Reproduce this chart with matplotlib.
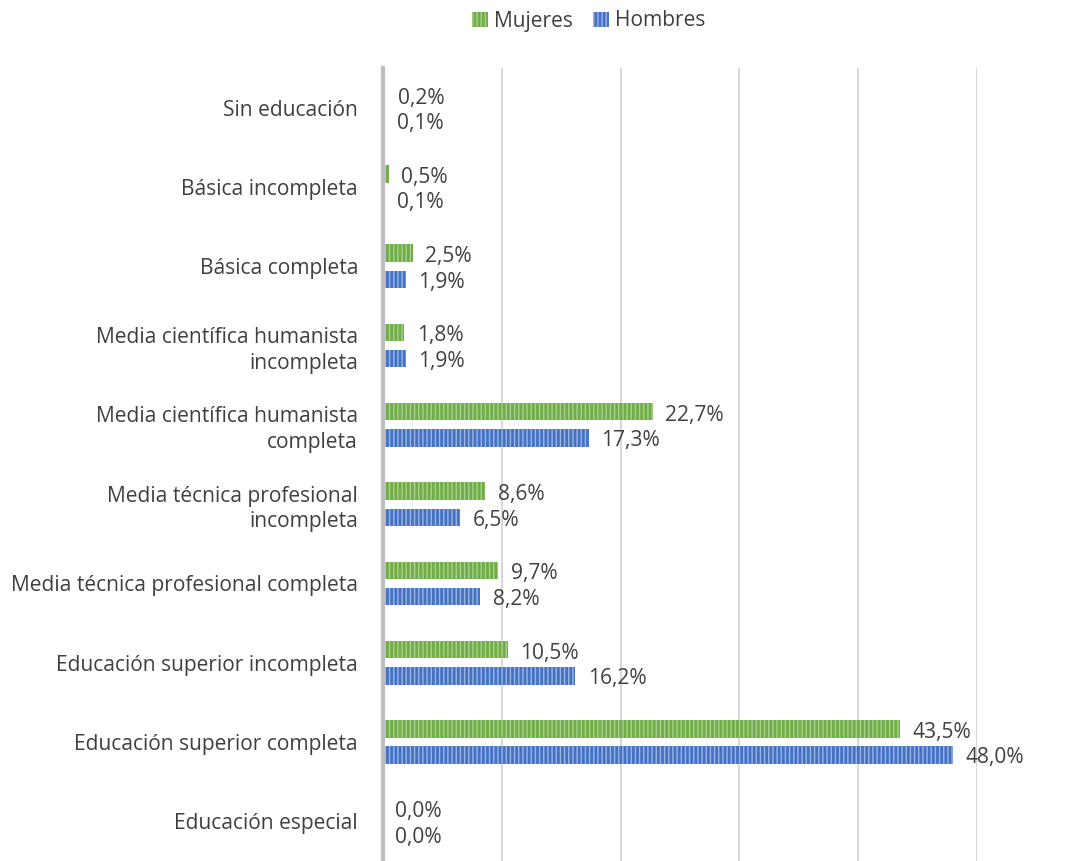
import matplotlib
matplotlib.use("Agg")
import matplotlib.pyplot as plt
import numpy as np
from matplotlib.patches import Patch

categories = [
    "Sin educación",
    "Básica incompleta",
    "Básica completa",
    "Media científica humanista\nincompleta",
    "Media científica humanista\ncompleta",
    "Media técnica profesional\nincompleta",
    "Media técnica profesional completa",
    "Educación superior incompleta",
    "Educación superior completa",
    "Educación especial",
]
mujeres = [0.2, 0.5, 2.5, 1.8, 22.7, 8.6, 9.7, 10.5, 43.5, 0.0]
hombres = [0.1, 0.1, 1.9, 1.9, 17.3, 6.5, 8.2, 16.2, 48.0, 0.0]
series_names = ["Mujeres", "Hombres"]

green = "#70AD47"
blue = "#4472C4"
text_color = "#404040"

plt.rcParams['font.family'] = ['Open Sans', 'DejaVu Sans']
plt.rcParams['hatch.linewidth'] = 1.0

fig = plt.figure(figsize=(10.89, 8.61), dpi=100)
ax = fig.add_axes([383/1089, 0.0, (977-383)/1089, 1 - 68/861])

y = np.arange(len(categories))
h = 0.22
off = 0.165
ax.barh(y - off, mujeres, height=h, color=green, edgecolor="#A9D08E", linewidth=0, hatch="||||", zorder=3)
ax.barh(y + off, hombres, height=h, color=blue, edgecolor="#9DB5E3", linewidth=0, hatch="||||", zorder=3)

fs = 15.1
for i, v in enumerate(mujeres):
    ax.annotate(f"{v:.1f}%".replace(".", ","), (v, y[i] - off), xytext=(9, -2.5),
                textcoords="offset points", va="center", ha="left",
                fontsize=fs, color=text_color)
for i, v in enumerate(hombres):
    ax.annotate(f"{v:.1f}%".replace(".", ","), (v, y[i] + off), xytext=(9, -2),
                textcoords="offset points", va="center", ha="left",
                fontsize=fs, color=text_color)

ax.set_xlim(0, 50)
ax.set_ylim(len(categories) - 0.5, -0.5)
ax.set_yticks(y)
ax.set_yticklabels(categories, fontsize=fs, color=text_color, linespacing=1.3)
ax.tick_params(axis='y', length=0, pad=18)
ax.set_xticks([0, 10, 20, 30, 40, 50])
ax.tick_params(axis='x', length=0, labelbottom=False)
ax.grid(axis='x', color="#D9D9D9", linewidth=1.5, zorder=0)
for s in ["top", "right", "bottom"]:
    ax.spines[s].set_visible(False)
ax.spines["left"].set_color("#BFBFBF")
ax.spines["left"].set_linewidth(3)
ax.spines["left"].set_zorder(4)

handles = [Patch(facecolor=green, edgecolor="#A9D08E", linewidth=0, hatch="||||"),
           Patch(facecolor=blue, edgecolor="#9DB5E3", linewidth=0, hatch="||||")]
fig.legend(handles, series_names, loc="center", bbox_to_anchor=(589/1089, 1 - 21/861),
           ncol=2, frameon=False, fontsize=fs, handlelength=0.75, handleheight=0.75,
           handletextpad=0.3, columnspacing=0.95, labelcolor=text_color)

fig.savefig("out.png", dpi=100)
